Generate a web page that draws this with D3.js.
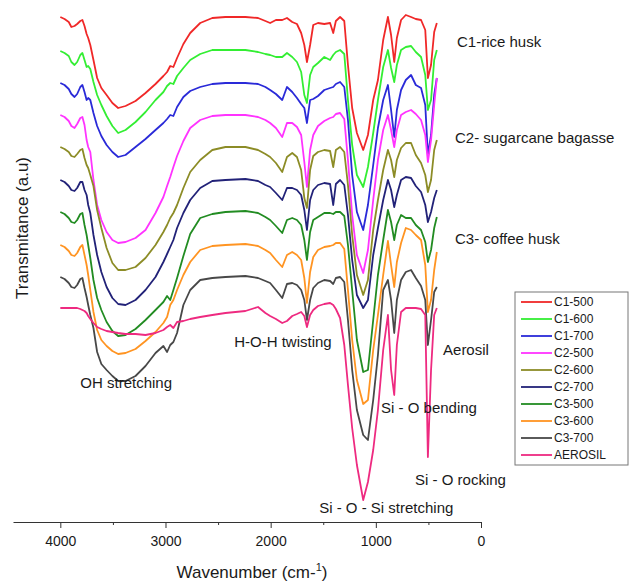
<!DOCTYPE html>
<html>
<head>
<meta charset="utf-8">
<script src="https://cdn.jsdelivr.net/npm/d3@7"></script>
<style>
  body { margin: 0; background: #fff; }
  svg { font-family: "Liberation Sans", Arial, sans-serif; }
</style>
</head>
<body>
<div id="chart"></div>
<script>
// wavenumber grid (cm-1) shared by all spectra
const wavenumbers = [4000, 3960, 3920, 3895, 3865, 3840, 3810, 3790, 3770, 3750, 3735, 3715, 3685,
  3650, 3610, 3560, 3505, 3450, 3380, 3285, 3190, 3095, 3020, 2985, 2955, 2925, 2890, 2830, 2765, 2670, 2555, 2430,
  2240, 2120, 2050, 2005, 1950, 1890, 1845, 1795, 1750, 1710, 1680, 1655, 1625, 1595, 1550, 1490, 1435, 1405, 1380, 1340, 1300,
  1265, 1225, 1180, 1120, 1075, 1025, 980, 930, 885, 855, 825, 800, 760, 715, 665, 620, 570, 530, 505, 475, 445, 420]

// transmittance (a.u., stacked as in the figure)
const c1_500 = [98.3, 98.1, 97.8, 97.3, 97.4, 97.6, 97.9, 98.0, 97.4, 96.6, 96.2, 95.5, 94.0,
  92.2, 91.2, 90.5, 89.7, 89.2, 89.4, 89.9, 90.7, 91.6, 92.4, 92.8, 93.4, 93.3, 94.2, 95.6, 96.7, 97.7, 98.2, 98.3,
  98.3, 98.2, 97.9, 97.7, 98.0, 98.0, 98.2, 97.8, 97.6, 96.7, 95.5, 93.8, 95.5, 97.5, 97.7, 97.6, 97.7, 96.7, 97.9, 98.3, 97.9,
  93.5, 89.2, 86.7, 85.0, 86.5, 90.0, 92.0, 96.0, 98.3, 96.5, 93.8, 96.2, 98.0, 98.5, 98.3, 98.1, 98.0, 97.0, 92.2, 93.5, 96.8, 97.7]
const c1_600 = [94.9, 94.7, 94.4, 93.8, 93.5, 93.8, 94.5, 94.7, 94.0, 93.3, 93.4, 93.1, 91.8,
  90.5, 89.5, 88.4, 87.4, 86.7, 87.0, 87.8, 88.8, 90.0, 90.8, 91.4, 91.7, 91.6, 92.4, 93.2, 94.0, 94.6, 95.0, 95.0,
  95.0, 94.8, 94.6, 94.5, 94.3, 94.3, 94.7, 94.3, 93.8, 92.8, 90.5, 89.7, 92.5, 93.3, 93.7, 94.3, 94.0, 94.5, 94.8, 95.0, 94.6,
  90.0, 85.5, 82.5, 81.3, 83.3, 86.7, 90.0, 93.3, 95.0, 93.2, 91.8, 93.5, 95.0, 95.3, 95.4, 94.8, 94.3, 92.5, 89.0, 90.0, 94.0, 95.0]
const c1_700 = [91.7, 91.5, 91.1, 90.6, 90.3, 90.6, 91.3, 91.5, 90.8, 90.0, 90.2, 90.0, 88.7,
  87.4, 86.4, 85.5, 84.8, 84.3, 84.5, 85.3, 86.1, 87.0, 87.7, 88.1, 88.5, 88.4, 89.3, 90.3, 90.9, 91.3, 91.6, 91.7,
  91.7, 91.6, 91.3, 91.0, 90.6, 90.0, 91.3, 90.8, 90.2, 89.6, 89.2, 87.7, 90.0, 90.1, 90.4, 91.0, 91.2, 91.3, 91.6, 91.8, 91.3,
  88.0, 82.5, 78.8, 77.0, 79.5, 83.5, 87.2, 90.0, 91.5, 89.0, 86.3, 89.0, 91.0, 92.0, 92.5, 91.5, 91.2, 89.5, 84.5, 86.5, 90.5, 92.2]
const c2_500 = [88.5, 88.3, 87.9, 87.4, 87.2, 87.6, 88.2, 88.3, 87.5, 86.0, 85.3, 84.8, 82.0,
  79.5, 78.0, 76.8, 76.0, 75.7, 75.8, 76.2, 77.0, 78.7, 80.3, 81.4, 82.3, 83.3, 84.4, 85.9, 87.2, 88.0, 88.4, 88.5,
  88.5, 88.3, 88.0, 87.7, 87.2, 86.3, 87.7, 87.7, 87.3, 86.5, 83.8, 81.3, 85.0, 86.5, 87.4, 87.9, 88.2, 88.3, 88.6, 88.7, 88.1,
  84.0, 78.5, 74.5, 72.7, 75.0, 80.0, 84.0, 87.0, 88.5, 87.0, 85.3, 87.0, 88.5, 88.8, 89.0, 88.6, 88.0, 86.5, 83.8, 86.0, 89.5, 92.2]
const c2_600 = [85.3, 85.1, 84.8, 84.4, 84.3, 84.6, 85.0, 85.1, 84.2, 83.5, 83.2, 82.5, 81.4,
  79.0, 77.2, 75.2, 73.7, 73.0, 73.0, 73.3, 74.2, 75.5, 76.8, 77.5, 78.2, 78.7, 79.5, 81.2, 82.8, 84.0, 85.0, 85.3,
  85.3, 85.0, 84.6, 84.3, 83.7, 82.8, 84.3, 84.7, 84.3, 83.0, 80.2, 79.2, 83.0, 84.4, 84.8, 85.0, 84.9, 83.3, 85.0, 85.3, 84.8,
  81.5, 76.5, 72.5, 70.5, 72.0, 77.0, 80.0, 83.0, 85.0, 84.0, 82.3, 84.0, 85.2, 85.7, 85.7, 84.5, 83.7, 82.5, 80.8, 82.0, 85.0, 86.0]
const c2_700 = [82.0, 81.8, 81.4, 81.0, 80.9, 81.2, 81.8, 81.8, 81.0, 80.5, 79.5, 78.7, 76.5,
  74.5, 72.8, 71.3, 70.2, 69.6, 69.5, 70.0, 71.0, 72.3, 73.8, 74.6, 75.3, 76.0, 77.2, 78.7, 80.0, 81.2, 81.9, 82.0,
  82.1, 81.9, 81.5, 81.3, 80.7, 80.0, 81.2, 81.2, 81.0, 80.5, 79.0, 77.0, 80.0, 81.0, 81.5, 81.7, 81.6, 79.5, 81.6, 82.0, 81.5,
  78.5, 74.0, 70.5, 69.2, 70.0, 74.5, 77.2, 80.0, 82.0, 81.0, 79.3, 80.5, 82.0, 82.3, 82.2, 81.4, 80.8, 79.5, 77.8, 78.8, 80.2, 81.0]
const c3_500 = [78.8, 78.6, 78.2, 77.8, 77.7, 78.0, 78.6, 78.7, 77.5, 76.5, 75.5, 74.2, 72.0,
  70.2, 69.0, 67.8, 66.9, 66.4, 66.5, 67.1, 68.0, 69.0, 69.8, 70.4, 70.0, 71.0, 72.2, 74.4, 76.6, 78.2, 78.6, 78.8,
  78.9, 78.7, 78.3, 78.0, 77.4, 76.7, 78.0, 78.2, 78.0, 77.5, 76.0, 74.0, 76.8, 78.0, 78.3, 78.7, 78.7, 78.6, 78.8, 78.8, 78.4,
  75.5, 71.0, 66.0, 62.8, 63.0, 68.0, 72.5, 76.0, 79.0, 77.8, 76.0, 77.5, 78.5, 78.2, 78.2, 77.5, 77.0, 75.8, 73.8, 75.0, 77.2, 78.3]
const c3_600 = [75.5, 75.3, 74.9, 74.5, 74.4, 74.7, 75.3, 75.5, 74.5, 73.5, 72.5, 71.0, 68.8,
  67.0, 66.0, 65.4, 64.9, 64.6, 64.7, 65.1, 65.9, 66.8, 67.7, 68.3, 69.5, 70.0, 71.0, 72.5, 73.8, 75.0, 75.4, 75.5,
  75.6, 75.4, 75.0, 74.7, 74.0, 73.3, 74.5, 74.8, 74.5, 74.0, 72.2, 69.7, 72.8, 74.3, 75.0, 75.3, 75.4, 75.5, 75.7, 75.7, 75.1,
  71.0, 66.0, 62.0, 59.6, 60.0, 65.0, 68.5, 72.5, 75.9, 73.5, 71.3, 73.8, 75.7, 77.2, 77.0, 76.5, 76.0, 73.5, 68.8, 70.0, 73.0, 74.8]
const c3_700 = [72.3, 72.1, 71.7, 71.3, 71.2, 71.5, 72.1, 72.2, 71.2, 70.3, 69.5, 68.5, 67.2,
  64.8, 63.6, 63.0, 62.4, 61.9, 61.9, 62.4, 63.4, 64.7, 65.4, 64.8, 65.5, 65.8, 66.7, 69.5, 71.0, 72.0, 72.2, 72.3,
  72.4, 72.2, 71.9, 71.7, 71.0, 70.2, 71.6, 71.7, 71.5, 71.0, 70.0, 68.0, 70.0, 71.2, 71.7, 72.0, 71.9, 71.6, 72.2, 72.3, 71.8,
  68.0, 63.0, 59.0, 56.5, 56.0, 60.0, 64.5, 71.0, 72.0, 70.0, 66.7, 70.0, 72.0, 72.8, 73.0, 72.2, 71.4, 70.0, 65.5, 68.0, 70.8, 71.3]
const aerosil = [69.2, 69.2, 69.2, 69.2, 69.2, 69.2, 69.1, 69.0, 68.9, 68.7, 68.4, 68.1, 67.7,
  67.3, 67.1, 66.9, 66.8, 66.7, 66.6, 66.6, 66.5, 66.7, 67.0, 67.3, 67.5, 67.2, 67.8, 67.9, 68.1, 68.3, 68.5, 68.7,
  68.9, 69.3, 68.7, 68.4, 68.1, 67.7, 67.9, 68.4, 68.6, 68.8, 68.4, 67.3, 68.5, 69.0, 69.4, 69.6, 69.7, 69.5, 69.1, 68.2, 65.5,
  61.5, 57.2, 53.5, 50.0, 51.8, 55.0, 59.0, 65.0, 68.5, 63.0, 60.5, 65.5, 68.8, 69.2, 69.2, 69.2, 69.1, 68.5, 54.3, 63.0, 68.5, 69.2]

const seriesNames = ["C1-500", "C1-600", "C1-700", "C2-500", "C2-600", "C2-700", "C3-500", "C3-600", "C3-700", "AEROSIL"]
const seriesValues = [c1_500, c1_600, c1_700, c2_500, c2_600, c2_700, c3_500, c3_600, c3_700, aerosil]
const colors = ["#f02828", "#33ee33", "#2a2ad8", "#ff33ff", "#8c8c26", "#222278", "#228c22", "#ff9422", "#484848", "#ee2a80"]

const xTicks = [4000, 3000, 2000, 1000, 0]
const xMinorTicks = [3500, 2500, 1500, 500]

// annotation labels: [text, wavenumber, transmittance] of the text's left baseline
const notes = [
  ["C1-rice husk", 228, 95.3],
  ["C2- sugarcane bagasse", 247, 85.7],
  ["C3- coffee husk", 247, 75.6],
  ["Aerosil", 361, 64.5],
  ["H-O-H twisting", 2347, 65.3],
  ["OH stretching", 3810, 61.2],
  ["Si - O bending", 950, 58.7],
  ["Si - O rocking", 627, 51.5],
  ["Si - O - Si stretching", 1539, 48.7]
]

let width = 636, height = 582

let svg = d3.select("#chart")
  .append("svg")
  .attr("width", width)
  .attr("height", height)

let x = d3.scaleLinear()
  .domain([4450, 0])
  .range([13, 481])

let y = d3.scaleLinear()
  .domain([100, 48])
  .range([0, 520])

// x axis
let axis = svg.append("g")
  .attr("transform", "translate(0,522)")
  .call(d3.axisBottom(x).tickValues(xTicks).tickFormat(d3.format("d"))
    .tickSize(6).tickSizeOuter(0).tickPadding(8))
axis.selectAll("text").style("font-size", "14px").attr("fill", "#1a1a1a")
axis.selectAll("line, path").attr("stroke", "#333")

let minor = svg.append("g")
  .attr("transform", "translate(0,522)")
  .call(d3.axisBottom(x).tickValues(xMinorTicks).tickSize(3).tickFormat(""))
minor.select(".domain").remove()
minor.selectAll("line").attr("stroke", "#333")

// spectra
let line = d3.line()
  .x(function (d) { return x(d[0]) })
  .y(function (d) { return y(d[1]) })

seriesValues.forEach(function (vals, i) {
  let pts = wavenumbers.map(function (w, j) { return [w, vals[j]] })
  svg.append("path")
    .datum(pts)
    .attr("d", line)
    .attr("fill", "none")
    .attr("stroke", colors[i])
    .attr("stroke-width", 1.8)
    .attr("stroke-linejoin", "round")
})

// annotations
svg.selectAll(".note")
  .data(notes)
  .enter()
  .append("text")
  .attr("class", "note")
  .attr("x", function (d) { return x(d[1]) })
  .attr("y", function (d) { return y(d[2]) })
  .style("font-size", "15px")
  .attr("fill", "#1a1a1a")
  .text(function (d) { return d[0] })

// axis titles
let xt = svg.append("text")
  .attr("x", 252)
  .attr("y", 578)
  .attr("text-anchor", "middle")
  .style("font-size", "17px")
  .attr("fill", "#1a1a1a")
xt.append("tspan").text("Wavenumber (cm-")
xt.append("tspan").attr("dy", -7).style("font-size", "11px").text("1")
xt.append("tspan").attr("dy", 7).text(")")

svg.append("text")
  .attr("transform", "translate(28,228) rotate(-90)")
  .attr("text-anchor", "middle")
  .style("font-size", "17px")
  .attr("fill", "#1a1a1a")
  .text("Transmitance (a.u)")

// legend
let legend = svg.append("g").attr("transform", "translate(515,292)")
legend.append("rect")
  .attr("width", 113)
  .attr("height", 173)
  .attr("fill", "#fff")
  .attr("stroke", "#777")
  .attr("stroke-width", 1)

let rows = legend.selectAll(".row")
  .data(seriesNames)
  .enter()
  .append("g")
  .attr("transform", function (d, i) { return "translate(0," + (10 + i * 17) + ")" })
rows.append("line")
  .attr("x1", 6).attr("x2", 37)
  .attr("stroke", function (d, i) { return colors[i] })
  .attr("stroke-width", 1.8)
rows.append("text")
  .attr("x", 39)
  .attr("dy", "0.35em")
  .style("font-size", "12px")
  .attr("fill", "#1a1a1a")
  .text(function (d) { return d })
</script>
</body>
</html>
